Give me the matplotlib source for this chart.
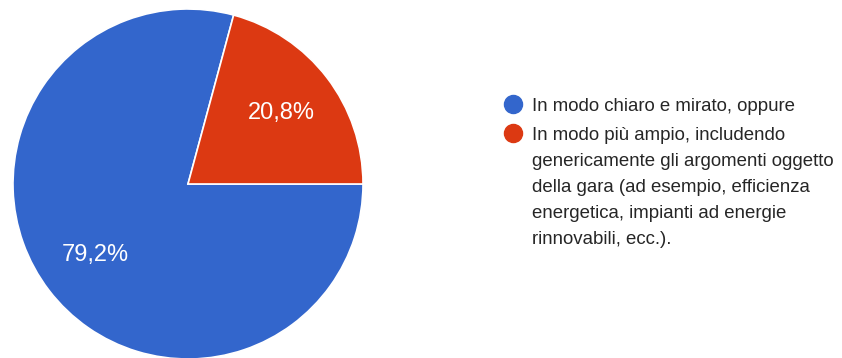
import matplotlib.pyplot as plt
from matplotlib.lines import Line2D

# risposte e percentuali
labels = [
    "In modo chiaro e mirato, oppure",
    "In modo più ampio, includendo\ngenericamente gli argomenti oggetto\n"
    "della gara (ad esempio, efficienza\nenergetica, impianti ad energie\n"
    "rinnovabili, ecc.).",
]
values = [79.2, 20.8]
colors = ['#3366CC', '#DC3912']

plt.rcParams['font.family'] = ['Liberation Sans', 'DejaVu Sans']

W, H = 842, 358
fig = plt.figure(figsize=(W / 100, H / 100), dpi=100)

# pie centred at (188, 184) px, radius 175 px
cx, cy, r = 188, 184, 175
ax = fig.add_axes([(cx - r) / W, (H - cy - r) / H, 2 * r / W, 2 * r / H])

ax.pie(values, colors=colors, startangle=360 * values[1] / 100, counterclock=True,
       autopct=lambda p: f'{p:.1f}%'.replace('.', ','), pctdistance=0.67,
       wedgeprops=dict(edgecolor='white', linewidth=1.2),
       textprops=dict(color='white', fontsize=17))
ax.set_xlim(-1, 1)
ax.set_ylim(-1, 1)
ax.set_aspect('equal')
ax.axis('off')

# legend drawn by hand: marker aligned with the first line of each entry
x_dot, x_txt = 513, 532
y = 104
for lab, col in zip(labels, colors):
    fig.add_artist(Line2D([x_dot / W], [1 - y / H], marker='o', markersize=13,
                          color=col, transform=fig.transFigure))
    lines = lab.split('\n')
    for i, line in enumerate(lines):
        fig.text(x_txt / W, 1 - (y + 2.5 + i * 26) / H, line, fontsize=13.4,
                 color='#262626', va='center', ha='left')
    y += 29 + (len(lines) - 1) * 26

fig.savefig('out.png', dpi=100, facecolor='white')
